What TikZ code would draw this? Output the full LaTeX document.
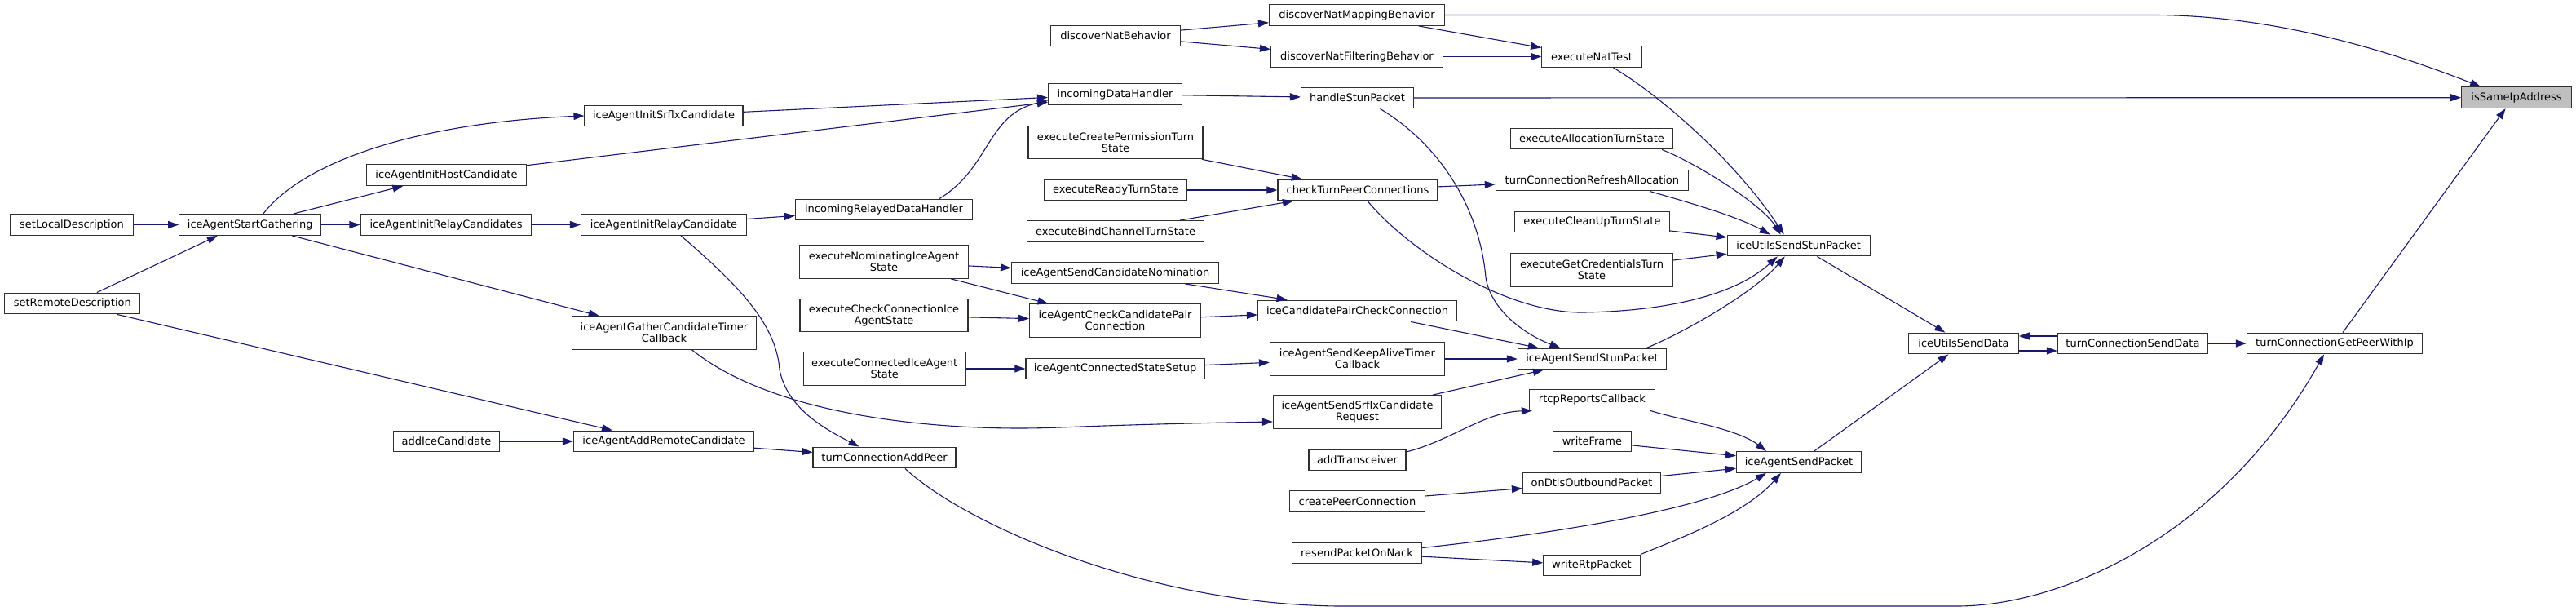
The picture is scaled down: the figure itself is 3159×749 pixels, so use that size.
\documentclass[tikz,border=0pt]{standalone}
\usepackage{fontspec}
\setmainfont{DejaVu Sans}
\usetikzlibrary{arrows.meta}
\definecolor{EdgeBlue}{RGB}{25,25,112}
\definecolor{BoxLine}{RGB}{48,48,48}
\definecolor{FocusGray}{RGB}{191,191,191}
\tikzset{
  fnnode/.style={draw=BoxLine,fill=white,line width=1.2pt,minimum height=25.7pt,inner xsep=2pt,inner ysep=0pt,align=center,font=\fontsize{13}{14}\selectfont},
  fnnode2/.style={fnnode,minimum height=40.5pt},
  focusnode/.style={fnnode,fill=FocusGray},
  callarrow/.style={-{Triangle[length=13pt,width=9pt]},line width=1.1pt,draw=EdgeBlue}
}
\begin{document}
\begin{tikzpicture}[x=1pt,y=-1pt]
\useasboundingbox (0,0) rectangle (3159,749);

% Outer callers.
\node[fnnode, minimum width=151] (sld) at (88,275.5) {setLocalDescription};
\node[fnnode, minimum width=166] (srd) at (88.8,372) {setRemoteDescription};
\node[fnnode, minimum width=174] (iasg) at (306.8,275.5) {iceAgentStartGathering};
\node[fnnode, minimum width=196] (iaihc) at (547.5,214.5) {iceAgentInitHostCandidate};
\node[fnnode, minimum width=210] (iairs) at (547,275.5) {iceAgentInitRelayCandidates};
\node[fnnode, minimum width=130] (aic) at (547.5,541) {addIceCandidate};
\node[fnnode, minimum width=194] (iaisc) at (814,142) {iceAgentInitSrflxCandidate};
\node[fnnode, minimum width=203] (iairc) at (814,275.5) {iceAgentInitRelayCandidate};
\node[fnnode2, minimum width=226] (iagctc) at (814.5,408) {iceAgentGatherCandidateTimer\\Callback};
\node[fnnode, minimum width=221] (iaarc) at (814,541) {iceAgentAddRemoteCandidate};
\node[fnnode, minimum width=217] (irdh) at (1084,257) {incomingRelayedDataHandler};
\node[fnnode2, minimum width=207] (enias) at (1084,321) {executeNominatingIceAgent\\State};
\node[fnnode2, minimum width=206] (ecci) at (1084,386.5) {executeCheckConnectionIce\\AgentState};
\node[fnnode2, minimum width=199] (ecia) at (1084.7,452) {executeConnectedIceAgent\\State};
\node[fnnode, minimum width=175] (tcap) at (1084.5,561) {turnConnectionAddPeer};

% Middle columns.
\node[fnnode, minimum width=159] (dnb) at (1368,44) {discoverNatBehavior};
\node[fnnode, minimum width=164] (idh) at (1367.5,115.5) {incomingDataHandler};
\node[fnnode2, minimum width=214] (ecpts) at (1368,174.5) {executeCreatePermissionTurn\\State};
\node[fnnode, minimum width=175] (erts) at (1368,233) {executeReadyTurnState};
\node[fnnode, minimum width=217] (ebcts) at (1368,283.5) {executeBindChannelTurnState};
\node[fnnode, minimum width=254] (iascn) at (1367.5,334.5) {iceAgentSendCandidateNomination};
\node[fnnode2, minimum width=210] (iaccpc) at (1367.5,393) {iceAgentCheckCandidatePair\\Connection};
\node[fnnode, minimum width=219] (iacss) at (1367.5,452) {iceAgentConnectedStateSetup};
\node[fnnode, minimum width=215] (dnmb) at (1664,18.5) {discoverNatMappingBehavior};
\node[fnnode, minimum width=211] (dnfb) at (1664,69.5) {discoverNatFilteringBehavior};
\node[fnnode, minimum width=138] (hsp) at (1664.5,120) {handleStunPacket};
\node[fnnode, minimum width=196] (ctpc) at (1665,233) {checkTurnPeerConnections};
\node[fnnode, minimum width=244] (icpcc) at (1664.5,381) {iceCandidatePairCheckConnection};
\node[fnnode2, minimum width=214] (iaskatc) at (1664.5,440) {iceAgentSendKeepAliveTimer\\Callback};
\node[fnnode2, minimum width=206] (iassc) at (1664.5,505) {iceAgentSendSrflxCandidate\\Request};
\node[fnnode, minimum width=119] (atr) at (1664.5,564) {addTransceiver};
\node[fnnode, minimum width=166] (cpc) at (1664.5,614.5) {createPeerConnection};
\node[fnnode, minimum width=159] (rpon) at (1664,678) {resendPacketOnNack};
\node[fnnode, minimum width=122.5] (ent) at (1952,69.5) {executeNatTest};
\node[fnnode, minimum width=199] (eats) at (1952,170) {executeAllocationTurnState};
\node[fnnode, minimum width=236] (tcra) at (1952.4,221) {turnConnectionRefreshAllocation};
\node[fnnode, minimum width=190] (ecuts) at (1952.4,272) {executeCleanUpTurnState};
\node[fnnode2, minimum width=199] (egcts) at (1952,330.7) {executeGetCredentialsTurn\\State};
\node[fnnode, minimum width=182] (iassp) at (1952.4,440) {iceAgentSendStunPacket};
\node[fnnode, minimum width=154] (rrc) at (1952.4,490) {rtcpReportsCallback};
\node[fnnode, minimum width=96] (wf) at (1952.4,541) {writeFrame};
\node[fnnode, minimum width=169] (dop) at (1952,592) {onDtlsOutboundPacket};
\node[fnnode, minimum width=118.5] (wrp) at (1952,693) {writeRtpPacket};

% Send path and the focus function.
\node[fnnode, minimum width=175] (iussp) at (2205.7,301) {iceUtilsSendStunPacket};
\node[fnnode, minimum width=153] (iasp) at (2206,566.5) {iceAgentSendPacket};
\node[fnnode, minimum width=134.5] (iusd) at (2408,421) {iceUtilsSendData};
\node[fnnode, minimum width=184] (tcsd) at (2615.4,421) {turnConnectionSendData};
\node[fnnode, minimum width=215] (tcgpwi) at (2863,421) {turnConnectionGetPeerWithIp};
\node[focusnode, minimum width=135] (isia) at (3086,119.7) {isSameIpAddress};

% Gathering calls.
\draw[callarrow] (sld) -- (iasg);
\draw[callarrow] ([xshift=30pt]srd.north) -- ([xshift=-40pt]iasg.south);
\draw[callarrow] ([xshift=55pt]srd.south) -- ([xshift=-63pt]iaarc.north);
\draw[callarrow] ([xshift=16pt]iasg.north) .. controls (375,195) and (520,150) .. (iaisc.west);
\draw[callarrow] (iasg) -- (iaihc);
\draw[callarrow] (iasg) -- (iairs);
\draw[callarrow] (iasg) -- (iagctc);
\draw[callarrow] (iairs) -- (iairc);
\draw[callarrow] (iairc) -- (irdh);
\draw[callarrow] ([xshift=21pt]iairc.south) .. controls (900,345) and (952,395) .. (956,453) .. controls (965,500) and (1010,525) .. ([xshift=-31pt]tcap.north);
\draw[callarrow] (iaihc) -- (idh);
\draw[callarrow] (iaisc) -- (idh);
\draw[callarrow] ([xshift=68pt]irdh.north) .. controls (1215,205) and (1210,140) .. ([yshift=-8pt]idh.west);
\draw[callarrow] (idh) -- (hsp);
\draw[callarrow] ([xshift=34pt]iagctc.south) .. controls (950,510) and (1150,530) .. (1300,524) .. controls (1400,520) and (1500,518) .. ([yshift=-12pt]iassc.west);
\draw[callarrow] (aic) -- (iaarc);
\draw[callarrow] (iaarc) -- (tcap);
\draw[callarrow] ([xshift=25.5pt]tcap.south) .. controls (1180,640) and (1400,740) .. (1640,743) -- (2400,743) .. controls (2520,743) and (2720,665) .. ([xshift=-13pt]tcgpwi.south);

% ICE state machine calls.
\draw[callarrow] (enias) -- (iascn);
\draw[callarrow] (enias) -- (iaccpc);
\draw[callarrow] (ecci) -- (iaccpc);
\draw[callarrow] (ecia) -- (iacss);
\draw[callarrow] (iascn) -- (icpcc);
\draw[callarrow] (iaccpc) -- (icpcc);
\draw[callarrow] (iacss) -- (iaskatc);
\draw[callarrow] (icpcc) -- (iassp);
\draw[callarrow] (iaskatc) -- (iassp);
\draw[callarrow] (iassc) -- (iassp);

% NAT discovery and TURN calls.
\draw[callarrow] (dnb) -- (dnmb);
\draw[callarrow] (dnb) -- (dnfb);
\draw[callarrow] (dnmb) -- (ent);
\draw[callarrow] (dnmb.east) -- (2640,18.5) .. controls (2800,18.5) and (2950,70) .. ([xshift=-44pt]isia.north);
\draw[callarrow] (dnfb) -- (ent);
\draw[callarrow] ([xshift=26.5pt]ent.south) .. controls (2040,120) and (2130,200) .. ([xshift=-18pt]iussp.north);
\draw[callarrow] (hsp) -- (isia);
\draw[callarrow] ([xshift=28pt]hsp.south) .. controls (1770,180) and (1815,260) .. (1822,340) .. controls (1828,380) and (1870,410) .. ([xshift=-39pt]iassp.north);
\draw[callarrow] (ecpts) -- (ctpc);
\draw[callarrow] (erts) -- (ctpc);
\draw[callarrow] (ebcts) -- (ctpc);
\draw[callarrow] (ctpc) -- (tcra);
\draw[callarrow] ([xshift=12pt]ctpc.south) .. controls (1730,310) and (1850,385) .. (1943,383) .. controls (2050,381) and (2130,360) .. ([xshift=-26pt]iussp.south);
\draw[callarrow] ([xshift=-14pt]eats.south east) .. controls (2080,200) and (2160,250) .. ([xshift=-22pt]iussp.north);
\draw[callarrow] ([xshift=70.6pt]tcra.south) .. controls (2070,248) and (2130,265) .. ([xshift=-35pt]iussp.north);
\draw[callarrow] (ecuts) -- (iussp);
\draw[callarrow] (egcts) -- (iussp);
\draw[callarrow] ([xshift=-25pt]iassp.north east) .. controls (2060,410) and (2150,360) .. ([xshift=-17pt]iussp.south);

% Media send calls.
\draw[callarrow] ([yshift=10pt]atr.east) .. controls (1780,540) and (1820,505) .. ([xshift=4pt]rrc.south west);
\draw[callarrow] ([xshift=-6pt]rrc.south east) .. controls (2060,515) and (2130,525) .. ([xshift=37pt]iasp.north west);
\draw[callarrow] (wf) -- (iasp);
\draw[callarrow] (cpc) -- (dop);
\draw[callarrow] (dop) -- (iasp);
\draw[callarrow] ([yshift=6.5pt]rpon.east) .. controls (1900,655) and (2090,625) .. ([xshift=37pt]iasp.south west);
\draw[callarrow] (rpon) -- (wrp);
\draw[callarrow] (wrp.north east) .. controls (2060,660) and (2140,630) .. ([xshift=55pt]iasp.south west);

% Down to the address check.
\draw[callarrow] (iussp) -- (iusd);
\draw[callarrow] (iasp) -- (iusd);
\draw[callarrow] ([yshift=-9pt]iusd.east) -- ([yshift=-9pt]tcsd.west);
\draw[callarrow] ([yshift=9pt]tcsd.west) -- ([yshift=9pt]iusd.east);
\draw[callarrow] (tcsd) -- (tcgpwi);
\draw[callarrow] ([xshift=10pt]tcgpwi.north) -- ([xshift=-13.5pt]isia.south);
\end{tikzpicture}
\end{document}
